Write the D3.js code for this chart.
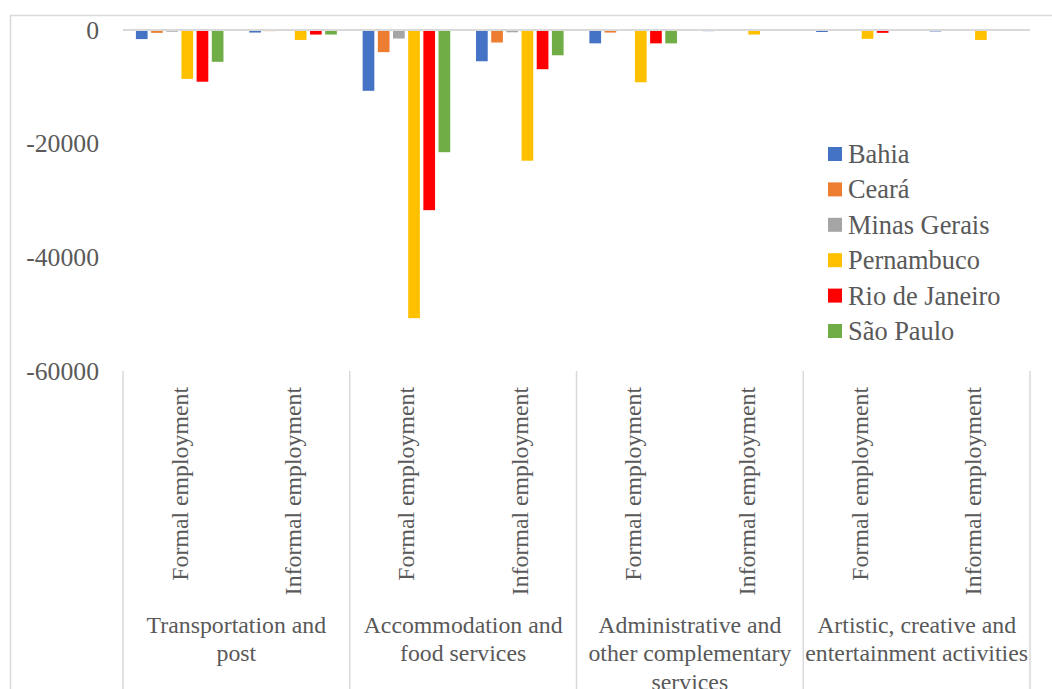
<!DOCTYPE html>
<html>
<head>
<meta charset="utf-8">
<script src="https://cdn.jsdelivr.net/npm/d3@7"></script>
<style>
  html, body { margin: 0; padding: 0; background: #fff; }
  svg { display: block; }
  svg text { font-family: "Liberation Serif", "Tinos", "Times New Roman", Times, "DejaVu Serif", serif; fill: #595959; }
</style>
</head>
<body>
<svg id="chart" width="1052" height="689"></svg>
<script>
// ---- data ----
const groups = ["Transportation and post", "Accommodation and food services", "Administrative and other complementary services", "Artistic, creative and entertainment activities"];
const groupLines = [["Transportation and", "post"], ["Accommodation and", "food services"], ["Administrative and", "other complementary", "services"], ["Artistic, creative and", "entertainment activities"]];
const subTypes = ["Formal employment", "Informal employment"];
const states = ["Bahia", "Ceará", "Minas Gerais", "Pernambuco", "Rio de Janeiro", "São Paulo"];
const colors = ["#4472C4", "#ED7D31", "#A5A5A5", "#FFC000", "#FF0000", "#70AD47"];
// order: Transport F, I; Accommodation F, I; Administrative F, I; Artistic F, I
const bahia      = [-1600, -450, -10700, -5500, -2350, -200, -350, -250];
const ceara      = [-500, -200, -3900, -2200, -450, -100, -150, -100];
const minasGerais= [-300, -30, -1500, -400, -30, -30, -30, -30];
const pernambuco = [-8600, -1750, -50700, -23000, -9200, -800, -1550, -1750];
const rioDeJaneiro = [-9100, -800, -31700, -6900, -2350, -150, -500, -100];
const saoPaulo   = [-5600, -800, -21500, -4450, -2350, -150, -150, -50];
const seriesValues = [bahia, ceara, minasGerais, pernambuco, rioDeJaneiro, saoPaulo];
const yTicks = [0, -20000, -40000, -60000];

// ---- layout ----
const FONT = '"Liberation Serif", "Tinos", "Times New Roman", Times, "DejaVu Serif", serif';
const svg = d3.select("#chart");
const plotLeft = 123, plotRight = 1030, plotTop = 30, plotBottom = 371;

// outer chart border
svg.append("rect").attr("x", 10.5).attr("y", 15.5).attr("width", 1100).attr("height", 800)
  .attr("fill", "none").attr("stroke", "#d9d9d9").attr("stroke-width", 1.5);

const slots = [];
groups.forEach((g, gi) => subTypes.forEach((s, si) => slots.push({ g: gi, s: si, idx: gi * 2 + si, label: s })));

const x0 = d3.scaleBand().domain(slots.map(d => d.idx)).range([plotLeft, plotRight]).padding(0);
const xg = d3.scaleBand().domain(d3.range(groups.length)).range([plotLeft, plotRight]).padding(0);
const x1 = d3.scaleBand().domain(d3.range(states.length)).range([0, x0.bandwidth()]).paddingInner(0.23).paddingOuter(0.85);
const y = d3.scaleLinear().domain([-60000, 0]).range([plotBottom, plotTop]);

// y axis labels
const yAxis = d3.axisLeft(y).tickValues(yTicks).tickSize(0).tickPadding(0).tickFormat(d => String(d));
const ya = svg.append("g").attr("transform", "translate(99,0)").call(yAxis);
ya.select(".domain").remove();
ya.attr("font-family", FONT);
ya.selectAll("text").attr("font-size", 25.7).attr("fill", "#595959").style("font-family", FONT);

// bars
states.forEach((st, si) => {
  svg.append("g").selectAll("rect").data(slots).join("rect")
    .attr("x", d => x0(d.idx) + x1(si))
    .attr("y", y(0))
    .attr("width", x1.bandwidth())
    .attr("height", d => y(seriesValues[si][d.idx]) - y(0))
    .attr("fill", colors[si]);
});

// zero line
svg.append("line").attr("x1", plotLeft).attr("x2", plotRight).attr("y1", y(0)).attr("y2", y(0))
  .attr("stroke", "#d9d9d9").attr("stroke-width", 2);

// category separators
const seps = d3.range(groups.length).map(i => xg(i)).concat([plotRight]);
svg.append("g").selectAll("line").data(seps).join("line")
  .attr("x1", d => d).attr("x2", d => d).attr("y1", plotBottom).attr("y2", 689)
  .attr("stroke", "#d9d9d9").attr("stroke-width", 1.5);

// rotated sub labels
svg.append("g").selectAll("text").data(slots).join("text")
  .attr("transform", d => `translate(${x0(d.idx) + x0.bandwidth() / 2},387) rotate(-90)`)
  .attr("text-anchor", "end").attr("dominant-baseline", "central")
  .style("font-family", FONT)
  .attr("font-size", 23.8).text(d => d.label);

// group labels
const gl = svg.append("g").selectAll("text").data(groupLines).join("text")
  .attr("text-anchor", "middle").attr("font-size", 23.8).style("font-family", FONT)
  .attr("x", (d, i) => xg(i) + xg.bandwidth() / 2).attr("y", 625);
gl.selectAll("tspan").data(d => d).join("tspan")
  .attr("x", function () { return d3.select(this.parentNode).attr("x"); })
  .attr("y", (d, i) => 625 + i * 28.3)
  .attr("dominant-baseline", "central")
  .text(d => d);

// legend
const lg = svg.append("g").selectAll("g").data(states).join("g")
  .attr("transform", (d, i) => `translate(828,${154 + i * 35.4})`);
lg.append("rect").attr("x", 0).attr("y", -7).attr("width", 14).attr("height", 14).attr("fill", (d, i) => colors[i]);
lg.append("text").attr("x", 20).attr("y", 0).attr("dominant-baseline", "central")
  .style("font-family", FONT)
  .attr("font-size", 26.4).text(d => d);
</script>
</body>
</html>
